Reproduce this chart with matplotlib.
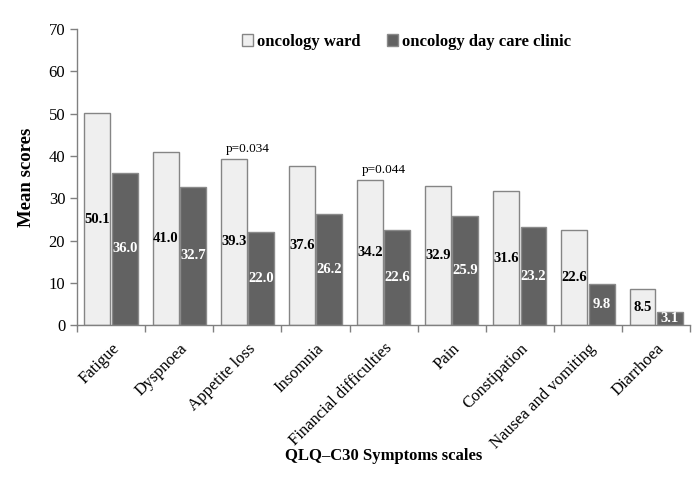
import matplotlib
matplotlib.use("Agg")
import matplotlib.pyplot as plt
import numpy as np

categories = ["Fatigue", "Dyspnoea", "Appetite loss", "Insomnia",
              "Financial difficulties", "Pain", "Constipation",
              "Nausea and vomiting", "Diarrhoea"]
ward = [50.1, 41.0, 39.3, 37.6, 34.2, 32.9, 31.6, 22.6, 8.5]
day_care = [36.0, 32.7, 22.0, 26.2, 22.6, 25.9, 23.2, 9.8, 3.1]
series_names = ["oncology ward", "oncology day care clinic"]
pvalue_idx = [2, 4]
pvalue_txt = ["p=0.034", "p=0.044"]
yticks = [0, 10, 20, 30, 40, 50, 60, 70]

plt.rcParams['font.family'] = ['Liberation Serif', 'DejaVu Serif']

fig = plt.figure(figsize=(7.0, 4.78), dpi=100)
ax = fig.add_axes([0.11, 0.32, 0.876, 0.619])

x = np.arange(len(categories))
w = 0.38
off = 0.2
ax.bar(x - off, ward, w, color="#efefef", edgecolor="#858585", linewidth=1.0,
       label=series_names[0])
ax.bar(x + off, day_care, w, color="#626262", edgecolor="#8a8a8a", linewidth=1.0,
       label=series_names[1])

for xi, v in zip(x, ward):
    ax.text(xi - off, v / 2, f"{v:.1f}", ha="center", va="center",
            fontsize=10.5, fontweight="bold", color="black")
for xi, v in zip(x, day_care):
    ax.text(xi + off, v / 2, f"{v:.1f}", ha="center", va="center",
            fontsize=10.5, fontweight="bold", color="white")

for i, t in zip(pvalue_idx, pvalue_txt):
    ax.text(x[i], ward[i] + 1.0, t, ha="center", va="bottom", fontsize=9.5)

ax.set_xlim(-0.5, len(categories) - 0.5)
ax.set_ylim(0, 70)
ax.set_yticks(yticks)
ax.tick_params(axis="y", labelsize=12, length=5, color="#808080", width=1)
ax.set_xticks(x)
ax.set_xticklabels(categories, rotation=45, ha="right", rotation_mode="anchor",
                   fontsize=12)
ax.tick_params(axis="x", length=0, pad=11)
ax.set_xticks(np.arange(len(categories) + 1) - 0.5, minor=True)
ax.tick_params(axis="x", which="minor", length=5, color="#808080", width=1)

for s in ["top", "right"]:
    ax.spines[s].set_visible(False)
for s in ["left", "bottom"]:
    ax.spines[s].set_color("#808080")
    ax.spines[s].set_linewidth(1)

ax.set_ylabel("Mean scores", fontsize=13.5, fontweight="bold", labelpad=10)
ax.set_xlabel("QLQ\u2013C30 Symptoms scales", fontsize=12, fontweight="bold",
              labelpad=-3)

ax.legend(loc="upper center", bbox_to_anchor=(0.537, 1.035), ncol=2,
          frameon=False, prop={"size": 12, "weight": "bold"},
          handlelength=0.7, handleheight=0.7, handletextpad=0.2,
          columnspacing=1.6)

fig.savefig("out.png", dpi=100)
